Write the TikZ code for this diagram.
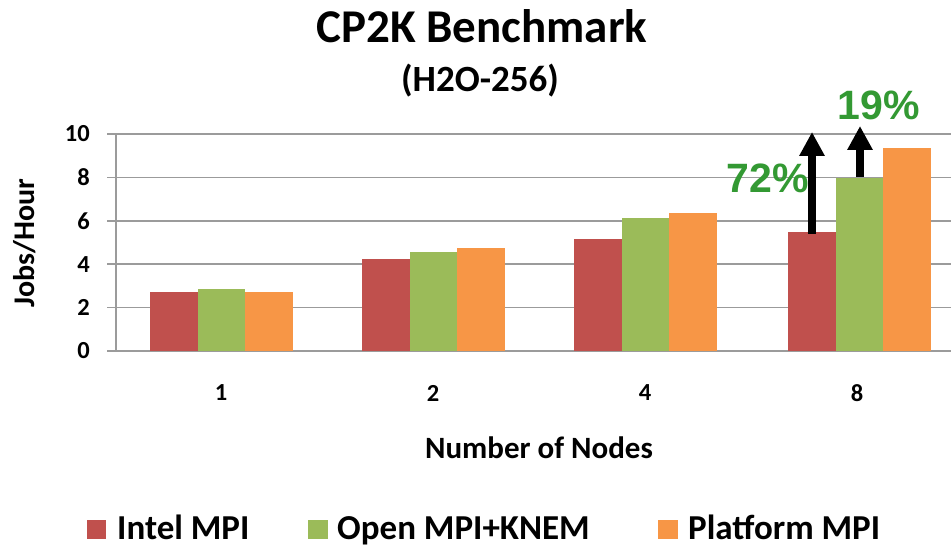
\documentclass[tikz,border=0pt]{standalone}
\usepackage{fontspec}
\setmainfont{Carlito}
\newfontfamily\pctfont{Liberation Sans}
\usetikzlibrary{arrows.meta}
\definecolor{barred}{RGB}{192,80,77}
\definecolor{bargreen}{RGB}{155,187,89}
\definecolor{barorange}{RGB}{247,150,70}
\definecolor{gridgray}{RGB}{155,155,155}
\definecolor{pctgreen}{RGB}{51,153,51}
\tikzset{
  grid line/.style={draw=gridgray, line width=1.5pt},
  tick label/.style={anchor=east, inner sep=0pt, font=\bfseries\fontsize{24.5}{26}\selectfont},
  cat label/.style={anchor=center, inner sep=0pt, font=\bfseries\fontsize{24.5}{26}\selectfont},
  legend text/.style={anchor=base west, inner sep=0pt, font=\bfseries\fontsize{35}{37}\selectfont},
  pct label/.style={text=pctgreen, inner sep=0pt, font=\pctfont\bfseries\fontsize{41}{44}\selectfont},
  up arrow/.style={line width=8pt, -{Triangle[width=24pt,length=24pt]}},
}
\newcommand{\chartbar}[4]{% x-left, value, color, name
  \fill[#3] (#1,351) rectangle ++(47.5,{-21.7*#2});
  \coordinate (#4) at ({#1+23.75},{351-21.7*#2});
}
\begin{document}
\begin{tikzpicture}[x=1pt,y=-1pt]
\useasboundingbox (0,0) rectangle (951,548);
\fill[white] (0,0) rectangle (951,548);
% grid
\foreach \v in {0,2,4,6,8,10}{
  \draw[grid line] (107,{351-21.7*\v}) -- (951,{351-21.7*\v});
  \node[tick label] (t\v) at (90,{351-21.7*\v}) {\v};
}
\draw[grid line] (116,134) -- (116,351);
% bars
\chartbar{150}{2.73}{barred}{r1}
\chartbar{197.5}{2.86}{bargreen}{g1}
\chartbar{245}{2.73}{barorange}{o1}
\chartbar{362}{4.22}{barred}{r2}
\chartbar{409.5}{4.58}{bargreen}{g2}
\chartbar{457}{4.75}{barorange}{o2}
\chartbar{574}{5.16}{barred}{r3}
\chartbar{621.5}{6.13}{bargreen}{g3}
\chartbar{669}{6.36}{barorange}{o3}
\chartbar{788}{5.47}{barred}{r4}
\chartbar{835.5}{7.99}{bargreen}{g4}
\chartbar{883}{9.37}{barorange}{o4}
% category labels
\node[cat label] (c1) at (221,393) {1};
\node[cat label] (c2) at (433,393) {2};
\node[cat label] (c3) at (645,393) {4};
\node[cat label] (c4) at (857,393) {8};
% axis titles
\node[inner sep=0pt, font=\bfseries\fontsize{31}{33}\selectfont] (xt) at (539,448) {Number of Nodes};
\node[inner sep=0pt, rotate=90, font=\bfseries\fontsize{30}{32}\selectfont] (yt) at (25,243) {Jobs/Hour};
% title
\node[anchor=base, inner sep=0pt, font=\bfseries\fontsize{47}{50}\selectfont] (title) at (482,43) {CP2K Benchmark};
\node[anchor=base, inner sep=0pt, font=\bfseries\fontsize{37}{40}\selectfont] (sub) at (480,92) {(H2O-256)};
% arrows
\coordinate (a1e) at (812,132);
\coordinate (a1s) at (812,234);
\coordinate (a2e) at (860,126);
\coordinate (a2s) at (860,177);
\draw[up arrow] (a1s) -- (a1e);
\draw[up arrow] (a2s) -- (a2e);
\node[pct label] (p72) at (768,178) {72\%};
\node[pct label] (p19) at (879,105) {19\%};
% legend
\fill[barred] (87,520) rectangle (106,539);
\node[legend text] (l1) at (117,539) {Intel MPI};
\fill[bargreen] (308,520) rectangle (328,539);
\node[legend text] (l2) at (337,539) {Open MPI+KNEM};
\fill[barorange] (658,520) rectangle (678,539);
\node[legend text] (l3) at (688,539) {Platform MPI};
\end{tikzpicture}
\end{document}
